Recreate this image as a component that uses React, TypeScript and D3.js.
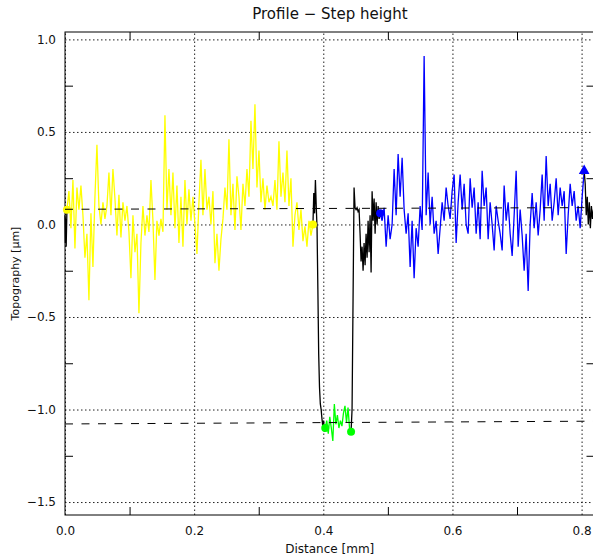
import { useEffect, useRef } from "react";
import * as d3 from "d3";

const W = 593;
const H = 559;

const xMajor = [0, 0.2, 0.4, 0.6, 0.8];
const xMinor = [0.1, 0.3, 0.5, 0.7];
const yMajor = [1.0, 0.5, 0.0, -0.5, -1.0, -1.5];
const yMinor = [0.75, 0.25, -0.25, -0.75, -1.25];

// distance spans [mm] of each profile piece, values in µm
const blackStartSpan = [0, 0.003];
const blackStart = [0.05, -0.10, 0.03, -0.12, -0.02, 0.08];

const yellowSpan = [0.003, 0.384];
const yellow = [
  0.08, 0.18, -0.02, 0.24, -0.13, 0.20, 0.08, 0.21, 0.05, -0.18,
  -0.05, -0.41, 0.06, -0.23, 0.15, 0.43, 0.10, 0.00, 0.12, 0.03,
  0.10, 0.28, 0.05, 0.30, 0.14, -0.06, 0.16, -0.07, 0.12, 0.02,
  0.10, -0.04, -0.29, 0.05, -0.15, -0.05, -0.48, -0.10, 0.10, -0.06,
  0.05, -0.04, 0.24, 0.02, -0.30, 0.02, -0.06, 0.03, -0.04, 0.59,
  0.08, 0.30, 0.05, 0.28, -0.02, 0.21, -0.10, 0.15, -0.12, 0.24,
  0.00, 0.19, 0.02, 0.15, 0.00, -0.16, 0.12, 0.35, 0.05, 0.30,
  0.08, 0.15, 0.00, 0.18, -0.21, -0.05, -0.25, -0.08, 0.03, 0.20,
  0.08, 0.46, 0.05, 0.22, -0.03, 0.26, 0.15, -0.03, 0.22, 0.10,
  0.30, 0.15, 0.56, 0.30, 0.65, 0.20, 0.40, 0.12, 0.25, 0.08,
  0.21, 0.12, 0.15, 0.10, 0.24, 0.08, 0.45, 0.15, 0.28, 0.12,
  0.40, 0.10, 0.25, -0.12, 0.05, 0.12, -0.03, 0.08, -0.09, -0.01,
  -0.12, 0.02, -0.06, 0.00,
];

const blackDropSpan = [0.384, 0.403];
const blackDrop = [0.00, 0.17, 0.06, 0.24, 0.10, -0.02, -0.35, -0.70, -0.88, -0.97, -1.00, -1.05, -1.09, -1.06, -1.12, -1.10];

const greenSpan = [0.403, 0.443];
const green = [-1.10, -1.06, -1.13, -1.04, -1.10, -1.17, -0.97, -1.08, -1.03, -1.10, -1.06, -1.09, -1.02, -0.98, -1.07, -0.99, -1.10, -1.12];

const blackRiseSpan = [0.443, 0.488];
const blackRise = [
  -1.12, -1.00, -0.40, 0.20, 0.09, 0.08, 0.09, 0.07, 0.08, -0.05,
  -0.20, -0.12, -0.25, -0.10, -0.22, -0.05, -0.18, 0.02, -0.15, 0.05,
  -0.26, 0.18, 0.02, 0.14, -0.05, 0.12, 0.00, 0.10, 0.03, 0.06,
];

const blueSpan = [0.488, 0.804];
const blue = [
  0.06, 0.02, 0.09, -0.12, 0.05, -0.08, 0.00, 0.30, 0.05, 0.38,
  0.15, 0.36, 0.08, -0.05, 0.06, -0.23, 0.02, -0.29, -0.02, -0.12,
  0.10, -0.03, 0.91, 0.05, 0.28, 0.00, 0.15, -0.05, 0.02, -0.16,
  -0.02, 0.12, 0.02, 0.20, 0.10, 0.03, 0.18, 0.27, -0.10, 0.12,
  0.27, 0.08, 0.22, 0.00, -0.05,
  0.25, 0.09, 0.20, -0.05, 0.12, -0.08, 0.29, 0.10, 0.20, -0.08,
  0.12, 0.00, -0.14, 0.10, 0.02, -0.05, -0.14, 0.21, 0.02, 0.12,
  -0.05, -0.17, 0.05, 0.29, -0.12, 0.08, -0.06, -0.25, -0.05, -0.36,
  0.00, 0.17, -0.02, 0.12, -0.06, 0.08, 0.27, 0.02, 0.37, 0.10,
  0.22, 0.02, 0.12, 0.25, 0.05, 0.20, 0.10, 0.18, -0.16, 0.05,
  0.22, 0.10, 0.18, 0.02, 0.10, -0.02, 0.15, 0.29,
];

const blackEndSpan = [0.804, 0.82];
const blackEnd = [0.29, 0.22, 0.05, 0.15, 0.00, 0.12, -0.02, 0.10, 0.03, 0.08, 0.01];

// fitted step levels at distance 0 and 0.82 mm
const fitSpan = [0, 0.82];
const fitUpper = [0.082, 0.091];
const fitLower = [-1.078, -1.063];

const FONT = "DejaVu Sans";

function toPoints(span: number[], vals: number[]): [number, number][] {
  const step = (span[1] - span[0]) / (vals.length - 1);
  return vals.map((v, i) => [span[0] + i * step, v]);
}

export default function App() {
  const svgRef = useRef<SVGSVGElement>(null);

  useEffect(() => {
    const svg = d3.select(svgRef.current);
    svg.selectAll("*").remove();

    const x = d3.scaleLinear().domain([0, 0.82]).range([65, 594.5]);
    const y = d3.scaleLinear().domain([-1.57, 1.04]).range([515, 32]);
    const [x0, x1] = x.range();
    const [yb, yt] = y.range();
    const fmt = (d: number) => d3.format(".1f")(d).replace("-", "\u2212");

    svg.append("rect").attr("width", W).attr("height", H).attr("fill", "#fff");

    const dotted = (ax: any) => {
      ax.select(".domain").remove();
      ax.selectAll(".tick line").attr("stroke", "#222").attr("stroke-dasharray", "1.5,2.5");
      ax.selectAll("text").attr("fill", "#111").attr("font-family", FONT).attr("font-size", 12);
    };

    // gridlines + labels
    svg.append("g").attr("transform", `translate(0,${yb})`)
      .call(d3.axisBottom(x).tickValues(xMajor).tickSize(-(yb - yt)).tickPadding(11).tickFormat(fmt as any))
      .call(dotted);
    svg.append("g").attr("transform", `translate(${x0},0)`)
      .call(d3.axisLeft(y).tickValues(yMajor).tickSize(-(x1 - x0)).tickPadding(9).tickFormat(fmt as any))
      .call(dotted);

    // minor ticks
    const solid = (ax: any) => {
      ax.select(".domain").remove();
      ax.selectAll(".tick line").attr("stroke", "#000");
    };
    svg.append("g").attr("transform", `translate(0,${yb})`)
      .call(d3.axisBottom(x).tickValues(xMinor).tickSize(-8).tickFormat(() => "")).call(solid);
    svg.append("g").attr("transform", `translate(0,${yt})`)
      .call(d3.axisTop(x).tickValues(xMinor).tickSize(-8).tickFormat(() => "")).call(solid);
    svg.append("g").attr("transform", `translate(${x0},0)`)
      .call(d3.axisLeft(y).tickValues(yMinor).tickSize(-8).tickFormat(() => "")).call(solid);
    svg.append("g").attr("transform", `translate(${x1},0)`)
      .call(d3.axisRight(y).tickValues(yMinor).tickSize(-8).tickFormat(() => "")).call(solid);

    svg.append("rect").attr("x", x0).attr("y", yt).attr("width", x1 - x0).attr("height", yb - yt)
      .attr("fill", "none").attr("stroke", "#000");

    const line = d3.line<[number, number]>().x(d => x(d[0])).y(d => y(d[1]));
    const pieces: [number[], number[], string][] = [
      [blackStartSpan, blackStart, "#000"],
      [yellowSpan, yellow, "#ffff00"],
      [blackDropSpan, blackDrop, "#000"],
      [greenSpan, green, "#00ff00"],
      [blackRiseSpan, blackRise, "#000"],
      [blueSpan, blue, "#0000ff"],
      [blackEndSpan, blackEnd, "#000"],
    ];
    pieces.forEach(([span, vals, color]) => {
      svg.append("path").datum(toPoints(span, vals)).attr("fill", "none")
        .attr("stroke", color).attr("stroke-width", 1.3).attr("stroke-linejoin", "miter")
        .attr("d", line);
    });

    // segment end markers
    const marks: [number, number, string][] = [
      [yellowSpan[0], yellow[0], "#ffff00"],
      [yellowSpan[1], yellow[yellow.length - 1], "#ffff00"],
      [greenSpan[0], green[0], "#00ff00"],
      [greenSpan[1], green[green.length - 1], "#00ff00"],
      [blueSpan[0], blue[0], "#0000ff"],
    ];
    marks.forEach(([d, v, c]) => {
      svg.append("circle").attr("cx", x(d)).attr("cy", y(v)).attr("r", 4).attr("fill", c);
    });
    svg.append("path")
      .attr("d", d3.symbol(d3.symbolTriangle, 50)())
      .attr("transform", `translate(${x(blueSpan[1])},${y(blue[blue.length - 1])})`)
      .attr("fill", "#0000ff");

    // fitted levels
    [fitUpper, fitLower].forEach(f => {
      svg.append("path").datum([[fitSpan[0], f[0]], [fitSpan[1], f[1]]] as [number, number][])
        .attr("fill", "none").attr("stroke", "#000").attr("stroke-dasharray", "8,8.5").attr("d", line);
    });

    svg.append("text").attr("x", 330).attr("y", 19).attr("text-anchor", "middle")
      .attr("font-family", FONT).attr("font-size", 15).attr("fill", "#111").text("Profile \u2212 Step height");
    svg.append("text").attr("x", (x0 + x1) / 2).attr("y", 553).attr("text-anchor", "middle")
      .attr("font-family", FONT).attr("font-size", 12).attr("fill", "#111").text("Distance [mm]");
    svg.append("text").attr("transform", `translate(19,${(yb + yt) / 2}) rotate(-90)`).attr("text-anchor", "middle")
      .attr("font-family", FONT).attr("font-size", 11).attr("fill", "#111").text("Topography [\u00b5m]");
  }, []);

  return <svg ref={svgRef} width={W} height={H} style={{ position: "absolute", left: 0, top: 0 }} />;
}
